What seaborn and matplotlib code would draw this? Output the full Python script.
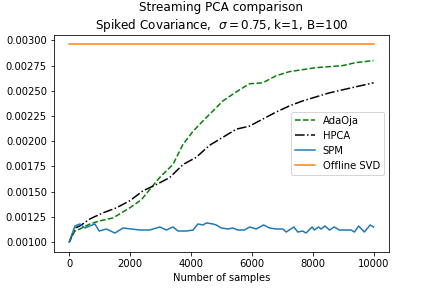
import matplotlib
matplotlib.use("Agg")
import matplotlib.pyplot as plt
import seaborn as sns

# values
ada_x = [0, 186, 350, 680, 1000, 1440, 1990, 2370, 2640, 2970, 3410, 3740, 4070,
         4390, 4720, 5050, 5490, 5920, 6360, 6800, 7230, 7670, 8110, 8550, 8980,
         9420, 10000]
ada_y = [0.00100, 0.00111, 0.00113, 0.00118, 0.00121, 0.00124, 0.00134, 0.00142,
         0.00152, 0.00164, 0.00177, 0.00197, 0.00210, 0.00220, 0.00230, 0.00240,
         0.00249, 0.00257, 0.00258, 0.00265, 0.00269, 0.00271, 0.00273, 0.00274,
         0.00275, 0.00278, 0.00280]

hpca_x = [0, 186, 350, 680, 1110, 1550, 1990, 2430, 2860, 3300, 3740, 4170, 4610,
          5050, 5490, 5920, 6360, 6800, 7230, 7670, 8110, 8550, 8980, 9420, 10000]
hpca_y = [0.00100, 0.00114, 0.00116, 0.00123, 0.00129, 0.00134, 0.00141, 0.00151,
          0.00157, 0.00164, 0.00177, 0.00184, 0.00196, 0.00204, 0.00212, 0.00215,
          0.00222, 0.00229, 0.00235, 0.00240, 0.00244, 0.00248, 0.00251, 0.00254,
          0.00258]

spm_x = [0, 187, 350, 515, 678, 843, 985, 1225, 1500, 1770, 2045, 2320, 2645, 2975,
         3190, 3410, 3575, 3850, 4070, 4230, 4395, 4505, 4720, 4830, 5000, 5215,
         5380, 5540, 5760, 5925, 6145, 6385, 6580, 6800, 7020, 7130, 7380, 7510,
         7670, 7780, 7980, 8055, 8190, 8275, 8405, 8550, 8710, 8875, 9095, 9260,
         9370, 9510, 9695, 9890, 10000]
spm_y = [0.00100, 0.00116, 0.00118, 0.00114, 0.00116, 0.00118, 0.00111, 0.00113,
         0.00109, 0.00114, 0.00113, 0.00112, 0.00112, 0.00115, 0.00112, 0.00115,
         0.00111, 0.00111, 0.00112, 0.00118, 0.00117, 0.00119, 0.00118, 0.00117,
         0.00114, 0.00113, 0.00114, 0.00112, 0.00112, 0.00115, 0.00113, 0.00117,
         0.00114, 0.00113, 0.00113, 0.00110, 0.00115, 0.00110, 0.00111, 0.00109,
         0.00115, 0.00112, 0.00115, 0.00113, 0.00116, 0.00112, 0.00115, 0.00112,
         0.00112, 0.00112, 0.00110, 0.00116, 0.00110, 0.00117, 0.00115]

svd_x = [0, 10000]
svd_y = [0.00296, 0.00296]

fig, ax = plt.subplots(figsize=(6, 4), dpi=72)

sns.lineplot(x=ada_x, y=ada_y, ax=ax, color="g", linestyle="--", label="AdaOja")
sns.lineplot(x=hpca_x, y=hpca_y, ax=ax, color="k", linestyle="-.", label="HPCA")
sns.lineplot(x=spm_x, y=spm_y, ax=ax, color="C0", label="SPM")
sns.lineplot(x=svd_x, y=svd_y, ax=ax, color="C1", label="Offline SVD")

ax.set_title("Streaming PCA comparison\nSpiked Covariance,  $\\sigma=0.75$, k=1, B=100")
ax.set_xlabel("Number of samples")
ax.legend(loc="center right")

plt.subplots_adjust(bottom=0.125)
plt.savefig("out.png", dpi=72)
